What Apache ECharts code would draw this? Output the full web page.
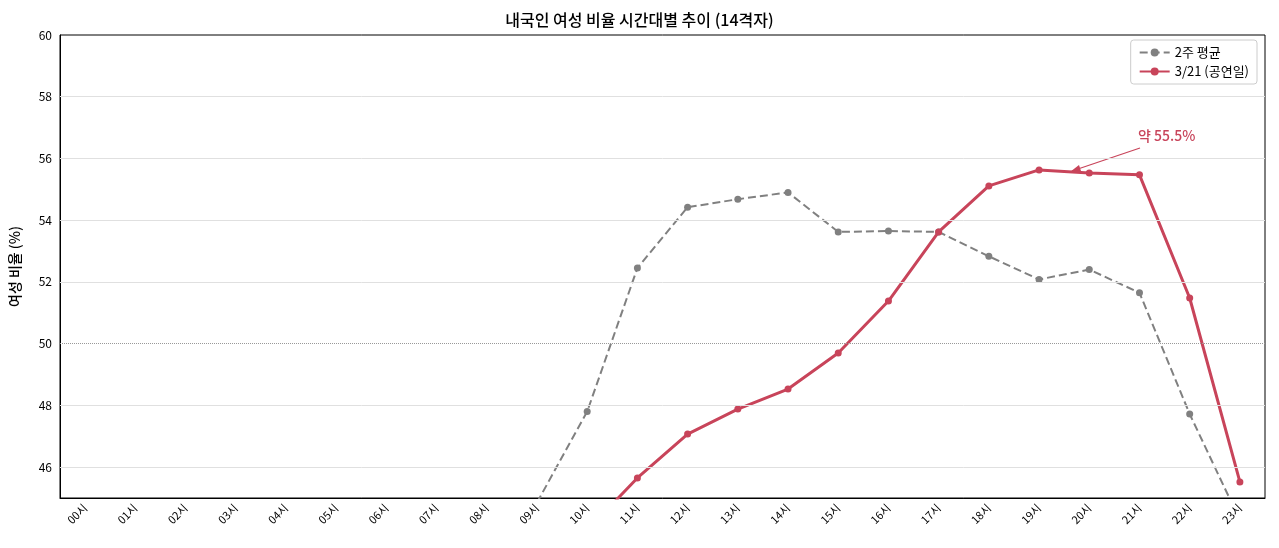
<!DOCTYPE html>
<html><head><meta charset="utf-8">
<script src="https://cdn.jsdelivr.net/npm/echarts@6/dist/echarts.min.js"></script>
<style>html,body{margin:0;background:#fff}#draw{width:1279px;height:548px}</style>
</head><body><div id="draw"></div>
<script>
var hours = ['00시','01시','02시','03시','04시','05시','06시','07시','08시','09시','10시','11시','12시','13시','14시','15시','16시','17시','18시','19시','20시','21시','22시','23시'];
var avg2w = [null,null,null,null,null,null,null,null,null,44.85,47.8,52.45,54.42,54.68,54.9,53.62,53.65,53.62,52.83,52.08,52.4,51.65,47.72,44.28];
var day321 = [null,null,null,null,null,null,null,null,null,null,43.95,45.65,47.07,47.88,48.53,49.7,51.38,53.62,55.11,55.63,55.53,55.47,51.48,45.52];
var gridVals = [46,48,52,54,56,58];
var font = 'Noto Sans CJK KR';

var myChart = echarts.init(document.getElementById('draw'));
var option = {
	textStyle : { fontFamily : font },
	title : {
		text : '내국인 여성 비율 시간대별 추이 (14격자)',
		left : 'center', top : 7,
		textStyle : { fontSize : 16, fontWeight : 500, color : '#000', fontFamily : font }
	},
	legend : {
		right : 22, top : 40, orient : 'vertical', itemGap : 6,
		borderColor : '#ccc', borderWidth : 1, borderRadius : 3, padding : [6, 8],
		textStyle : { fontSize : 13, color : '#000' },
		itemWidth : 30, itemHeight : 10,
		data : ['2주 평균', '3/21 (공연일)']
	},
	grid : { left : 60, right : 14, top : 35, bottom : 50, show : true, borderColor : '#000', borderWidth : 1 },
	xAxis : {
		type : 'category', data : hours, boundaryGap : ['5%', '5%'],
		axisLine : { lineStyle : { color : '#000' } },
		axisTick : { alignWithLabel : true, lineStyle : { color : '#000' } },
		axisLabel : { rotate : 45, color : '#000', fontSize : 11, interval : 0 }
	},
	yAxis : {
		type : 'value', min : 45, max : 60, interval : 1,
		name : '여성 비율 (%)', nameLocation : 'middle', nameGap : 38,
		nameTextStyle : { fontSize : 14, color : '#000', fontWeight : 500 },
		axisLine : { show : true, lineStyle : { color : '#000' } },
		axisTick : { show : false },
		splitLine : { show : false },
		axisLabel : { color : '#000', fontSize : 12, formatter : function(v) { return v % 2 === 0 ? v : ''; } }
	},
	graphic : [
		{ type : 'line', shape : { x1 : 1140, y1 : 148, x2 : 1072, y2 : 171 }, style : { stroke : '#c8445a', lineWidth : 1.2 } },
		{ type : 'polygon', shape : { points : [[1070, 172], [1079, 165], [1081, 171]] }, style : { fill : '#c8445a' } },
		{ type : 'text', left : 1138, top : 129, style : { text : '약 55.5%', fill : '#c8445a', font : '500 14px "Noto Sans CJK KR"' } }
	],
	series : [ {
		name : '2주 평균', type : 'line', data : avg2w,
		symbol : 'circle', symbolSize : 7,
		lineStyle : { type : 'dashed', width : 2, color : '#808080' },
		itemStyle : { color : '#808080' },
		markLine : {
			silent : true, symbol : 'none', label : { show : false },
			data : gridVals.map(function(v) { return { yAxis : v, lineStyle : { color : '#e0e0e0', type : 'solid', width : 1 } }; })
				.concat([ { yAxis : 50, lineStyle : { color : '#999', type : 'dotted', width : 1 } } ])
		}
	}, {
		name : '3/21 (공연일)', type : 'line', data : day321,
		symbol : 'circle', symbolSize : 7,
		lineStyle : { width : 3, color : '#c8445a' },
		itemStyle : { color : '#c8445a' }
	} ]
};
myChart.setOption(option);
</script></body></html>
